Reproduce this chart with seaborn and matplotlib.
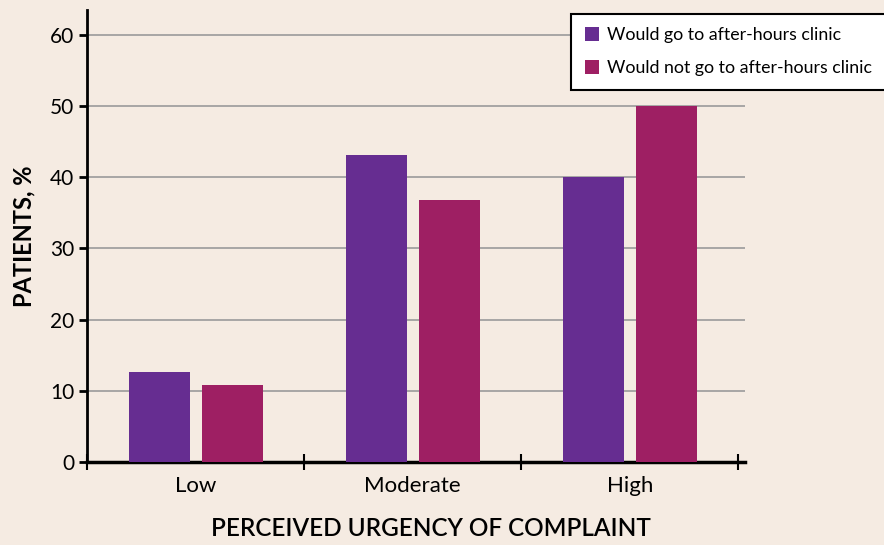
import pandas as pd
import numpy as np
import matplotlib
matplotlib.use("Agg")
import matplotlib.pyplot as plt
import seaborn as sns

categories = ["Low", "Moderate", "High"]
groups = ["Would go to after-hours clinic", "Would not go to after-hours clinic"]
go_values = [12.6, 43.1, 40.0]
not_go_values = [10.8, 36.8, 50.0]
y_ticks = [0, 10, 20, 30, 40, 50, 60]

df = pd.DataFrame({
    "urgency": categories * 2,
    "group": [groups[0]] * 3 + [groups[1]] * 3,
    "pct": go_values + not_go_values,
})

bg = "#f5ebe2"
colors = ["#662d91", "#9e1f63"]

sns.set_style("white")
plt.rcParams["font.family"] = ["Lato", "DejaVu Sans"]
plt.rcParams["text.color"] = "black"
plt.rcParams["xtick.color"] = "black"
plt.rcParams["ytick.color"] = "black"
plt.rcParams["axes.labelcolor"] = "black"

fig = plt.figure(figsize=(8.84, 5.45), dpi=100, facecolor=bg)
ax = fig.add_axes([87/884, 1-462/545, (745-87)/884, (462-10)/545])
ax.set_facecolor(bg)

sns.barplot(data=df, x="urgency", y="pct", hue="group", palette=colors,
            width=0.672, gap=0.164, saturation=1, linewidth=0, ax=ax, zorder=3)

ax.set_xlim(-0.5, 2.53)
ax.set_ylim(0, 63.5)
ax.set_yticks(y_ticks)
ax.set_yticklabels([str(t) for t in y_ticks], fontsize=15)
ax.yaxis.grid(True, color="#9a9a9a", linewidth=1.2, zorder=0)
ax.tick_params(axis="y", left=True, direction="out", length=6, width=2, color="black", pad=3)

ax.set_xticks([-0.5, 0.5, 1.5, 2.5])
ax.set_xticklabels([])
ax.tick_params(axis="x", which="major", bottom=True, direction="inout", length=12, width=1.5, color="black")
ax.set_xticks([0, 1, 2], minor=True)
ax.set_xticklabels(categories, minor=True, fontsize=16)
ax.tick_params(axis="x", which="minor", bottom=True, length=0, pad=10)

for s in ["top", "right"]:
    ax.spines[s].set_visible(False)
ax.spines["left"].set_linewidth(2)
ax.spines["bottom"].set_linewidth(2.5)
ax.spines["left"].set_color("black")
ax.spines["bottom"].set_color("black")

ax.set_ylabel("PATIENTS, %", fontsize=17, fontweight="bold")
ax.yaxis.set_label_coords(-0.078, 0.5)
ax.set_xlabel("PERCEIVED URGENCY OF COMPLAINT", fontsize=17.5, fontweight="semibold")
ax.xaxis.set_label_coords(0.523, -0.122)

leg = ax.legend(loc="upper right", bbox_to_anchor=(1.002, 1 - 14/545),
                bbox_transform=fig.transFigure, frameon=True, fancybox=False,
                fontsize=12.8, handlelength=0.78, handleheight=0.78,
                handletextpad=0.5, borderpad=0.75, labelspacing=0.95,
                borderaxespad=0)
leg.get_frame().set_edgecolor("black")
leg.get_frame().set_linewidth(1.5)
leg.get_frame().set_facecolor("white")
leg.get_frame().set_alpha(1)

fig.savefig("out.png", dpi=100, facecolor=bg)
